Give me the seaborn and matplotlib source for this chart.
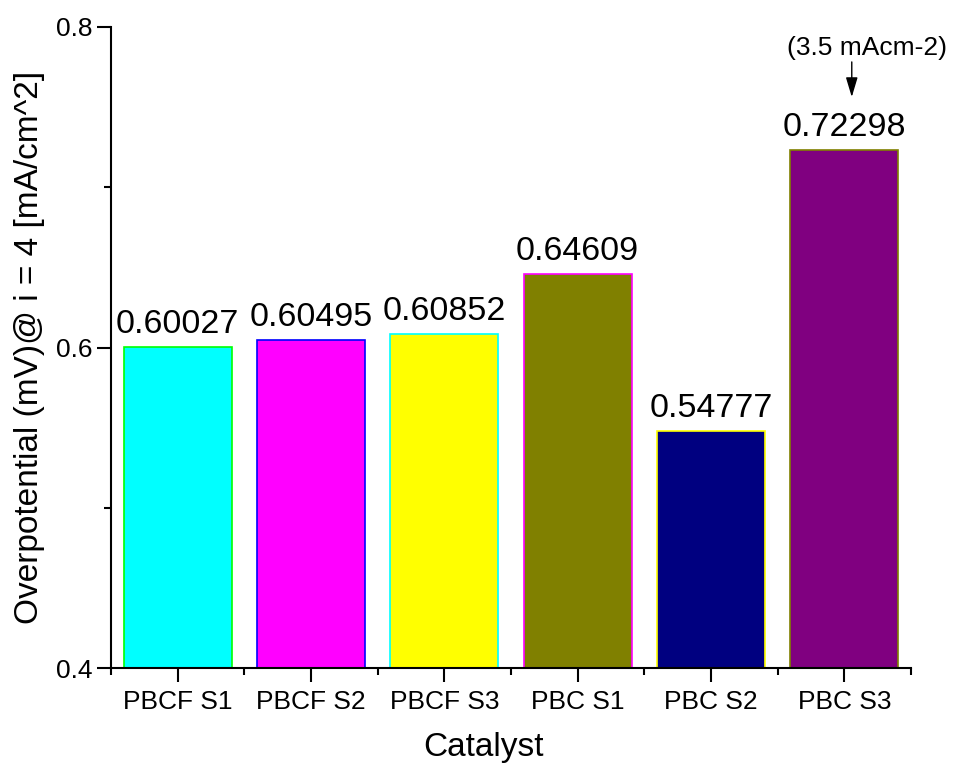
import matplotlib
matplotlib.use('Agg')
import matplotlib.pyplot as plt
from matplotlib.ticker import FixedLocator
import seaborn as sns
import pandas as pd

# data
catalysts = ['PBCF S1', 'PBCF S2', 'PBCF S3', 'PBC S1', 'PBC S2', 'PBC S3']
overpotential = [0.60027, 0.60495, 0.60852, 0.64609, 0.54777, 0.72298]
fill_colors = ['#00ffff', '#ff00ff', '#ffff00', '#808000', '#000080', '#800080']
edge_colors = ['#00ff00', '#0000ff', '#00ffff', '#ff00ff', '#ffff00', '#808000']
y_ticks = [0.4, 0.6, 0.8]
note = '(3.5 mAcm-2)'

df = pd.DataFrame({'Catalyst': catalysts, 'eta': overpotential})

sns.set_style('ticks')
plt.rcParams['font.family'] = ['Liberation Sans', 'DejaVu Sans']
plt.rcParams['text.color'] = 'black'
plt.rcParams['axes.labelcolor'] = 'black'
plt.rcParams['xtick.color'] = 'black'
plt.rcParams['ytick.color'] = 'black'

fig = plt.figure(figsize=(9.55, 7.69), dpi=100)
ax = fig.add_axes([0.1162, 0.1313, 0.8377, 0.8336])

sns.barplot(data=df, x='Catalyst', y='eta', hue='Catalyst', palette=fill_colors,
            legend=False, width=0.81, saturation=1, ax=ax)

for patch, ec in zip(ax.patches, edge_colors):
    patch.set_edgecolor(ec)
    patch.set_linewidth(1.2)

# value labels on top of bars
for i, v in enumerate(overpotential):
    ax.annotate(f'{v:.5f}', (i, v), xytext=(0, 5), textcoords='offset points',
                ha='center', va='bottom', fontsize=24.5)

# note with arrow over the last bar
ax.text(5.17, 0.7869, note, ha='center', va='center', fontsize=19)
ax.annotate('', xy=(5.056, 0.7563), xytext=(5.056, 0.7782),
            arrowprops=dict(arrowstyle='-|>,head_length=0.6,head_width=0.18',
                            color='black', lw=1.0, mutation_scale=20,
                            shrinkA=0, shrinkB=0))

ax.set_xlim(-0.5, 5.5)
ax.set_ylim(0.4, 0.8)
ax.set_yticks(y_ticks)
ax.set_yticklabels([str(t) for t in y_ticks])
ax.yaxis.set_minor_locator(FixedLocator([0.5, 0.7]))
ax.xaxis.set_minor_locator(FixedLocator([i + 0.5 for i in range(-1, 6)]))

ax.tick_params(axis='both', which='major', direction='out', length=10, width=1.5, labelsize=19)
ax.tick_params(axis='both', which='minor', direction='out', length=5, width=1.5)
ax.tick_params(axis='x', which='major', pad=6)

for side in ['top', 'right']:
    ax.spines[side].set_visible(False)
for side in ['left', 'bottom']:
    ax.spines[side].set_linewidth(1.5)
    ax.spines[side].set_color('black')

ax.set_xlabel('Catalyst', fontsize=24)
ax.set_ylabel('Overpotential (mV)@ i = 4 [mA/cm^2]', fontsize=24)
ax.xaxis.set_label_coords(0.466, -0.1)
ax.yaxis.set_label_coords(-0.0825, 0.5)

fig.savefig('out.png', dpi=100)
